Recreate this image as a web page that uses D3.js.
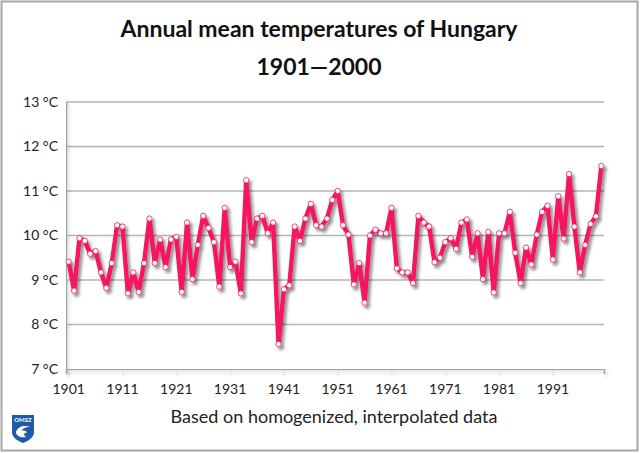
<!DOCTYPE html>
<html>
<head>
<meta charset="utf-8">
<script src="https://cdn.jsdelivr.net/npm/d3@7"></script>
<style>
  html, body { margin: 0; padding: 0; background: #fff; }
  svg { display: block; font-family: Lato, "Open Sans", sans-serif; }
</style>
</head>
<body>
<div id="chart"></div>
<script>
const years = d3.range(1901, 2001);
const temps = [
  9.41, 8.76, 9.94, 9.88, 9.59, 9.65, 9.17, 8.82, 9.38, 10.23,
  10.2, 8.7, 9.17, 8.73, 9.38, 10.38, 9.38, 9.91, 9.29, 9.91,
  9.97, 8.73, 10.29, 9.02, 9.79, 10.44, 10.17, 9.85, 8.85, 10.62,
  9.29, 9.41, 8.7, 11.24, 9.85, 10.38, 10.44, 10.05, 10.29, 7.56,
  8.79, 8.88, 10.2, 9.88, 10.38, 10.71, 10.23, 10.2, 10.38, 10.8,
  11.0, 10.23, 10.02, 8.9, 9.38, 8.49, 10.0, 10.13, 10.05, 10.05,
  10.62, 9.26, 9.17, 9.17, 8.93, 10.44, 10.29, 10.2, 9.4, 9.5,
  9.85, 9.94, 9.7, 10.29, 10.36, 9.52, 10.05, 9.02, 10.08, 8.72,
  10.05, 10.05, 10.53, 9.61, 8.93, 9.73, 9.35, 10.02, 10.53, 10.67,
  9.46, 10.88, 9.93, 11.38, 10.2, 9.17, 9.79, 10.26, 10.43, 11.56
];
const xLabels = [1901, 1911, 1921, 1931, 1941, 1951, 1961, 1971, 1981, 1991];
const yLabels = [7, 8, 9, 10, 11, 12, 13];

const w = 640;
const h = 453;

const svg = d3.select("#chart")
  .append("svg")
  .attr("width", w)
  .attr("height", h);

// soft shadows like the spreadsheet chart
const defs = svg.append("defs");
const shadow = defs.append("filter").attr("id", "shadow")
  .attr("filterUnits", "userSpaceOnUse")
  .attr("x", 0).attr("y", 0).attr("width", w).attr("height", h);
shadow.append("feDropShadow")
  .attr("dx", 2.5).attr("dy", 3).attr("stdDeviation", 1.8)
  .attr("flood-color", "#000").attr("flood-opacity", 0.45);
const axisShadow = defs.append("filter").attr("id", "axisShadow")
  .attr("filterUnits", "userSpaceOnUse")
  .attr("x", 0).attr("y", 0).attr("width", w).attr("height", h);
axisShadow.append("feDropShadow")
  .attr("dx", 2).attr("dy", 3).attr("stdDeviation", 1.5)
  .attr("flood-color", "#000").attr("flood-opacity", 0.16);

// outer frame
svg.append("rect")
  .attr("x", 1.5).attr("y", 1.5)
  .attr("width", 636).attr("height", 449)
  .attr("fill", "#fff")
  .attr("stroke", "#a6a6a6")
  .attr("stroke-width", 2);

const xScale = d3.scaleBand()
  .domain(years)
  .range([66, 604]);

const yScale = d3.scaleLinear()
  .domain([7, 13])
  .range([369, 102]);

// grid
svg.append("g")
  .selectAll("line")
  .data(yLabels.slice(1))
  .enter()
  .append("line")
  .attr("x1", 66)
  .attr("x2", 604)
  .attr("y1", d => yScale(d))
  .attr("y2", d => yScale(d))
  .attr("stroke", "#b4b4b4")
  .attr("stroke-width", 1.3);

const yAxis = d3.axisLeft(yScale)
  .tickValues(yLabels)
  .tickFormat(d => d + " °C")
  .tickSize(5)
  .tickPadding(3);

const xAxis = d3.axisBottom(xScale)
  .tickValues(xLabels)
  .tickSize(5)
  .tickPadding(10);

const gy = svg.append("g")
  .attr("transform", "translate(66,0)")
  .call(yAxis);

const gx = svg.append("g")
  .attr("transform", "translate(0,369)")
  .call(xAxis);

// ticks sit between categories, labels stay centred
gx.selectAll(".tick line").attr("x1", -xScale.bandwidth() / 2).attr("x2", -xScale.bandwidth() / 2);

svg.selectAll(".domain, .tick line")
  .attr("stroke", "#a3a3a3")
  .attr("stroke-width", 1.6)
  .attr("filter", "url(#axisShadow)");

svg.selectAll(".tick text")
  .attr("font-size", 14)
  .attr("font-family", "Lato, sans-serif")
  .attr("fill", "#222");

// series
const line = d3.line()
  .x((d, i) => xScale(years[i]) + xScale.bandwidth() / 2)
  .y(d => yScale(d));

const series = svg.append("g").attr("filter", "url(#shadow)");

series.append("path")
  .datum(temps)
  .attr("d", line)
  .attr("fill", "none")
  .attr("stroke", "#f5125f")
  .attr("stroke-width", 4.4)
  .attr("stroke-linejoin", "round");

series.selectAll("circle")
  .data(temps)
  .enter()
  .append("circle")
  .attr("cx", (d, i) => xScale(years[i]) + xScale.bandwidth() / 2)
  .attr("cy", d => yScale(d))
  .attr("r", 2.7)
  .attr("fill", "#fff")
  .attr("stroke", "#f5125f")
  .attr("stroke-width", 0.8);

// titles
svg.append("text")
  .attr("x", 319).attr("y", 37)
  .attr("text-anchor", "middle")
  .attr("font-size", 23)
  .attr("font-weight", 700)
  .attr("fill", "#111")
  .text("Annual mean temperatures of Hungary");

svg.append("text")
  .attr("x", 319).attr("y", 75)
  .attr("text-anchor", "middle")
  .attr("font-size", 23)
  .attr("font-weight", 700)
  .attr("fill", "#111")
  .text("1901—2000");

svg.append("text")
  .attr("x", 334).attr("y", 423)
  .attr("text-anchor", "middle")
  .attr("font-size", 18)
  .attr("fill", "#222")
  .text("Based on homogenized, interpolated data");

// OMSZ shield
const logo = svg.append("g").attr("transform", "translate(12,415)");
logo.append("path")
  .attr("d", "M0,0H22V17C22,23 16,26 11,28C6,26 0,23 0,17Z")
  .attr("fill", "#1f5aa8");
logo.append("text")
  .attr("x", 11).attr("y", 7)
  .attr("text-anchor", "middle")
  .attr("font-size", 6)
  .attr("font-weight", 700)
  .attr("fill", "#fff")
  .text("OMSZ");
logo.append("path")
  .attr("d", "M4,17C6,11 13,10 18,12C13,12 10,14 10,16C12,15 15,16 15,18C12,17 11,20 14,22C9,23 4,21 4,17Z")
  .attr("fill", "#fff");
</script>
</body>
</html>
